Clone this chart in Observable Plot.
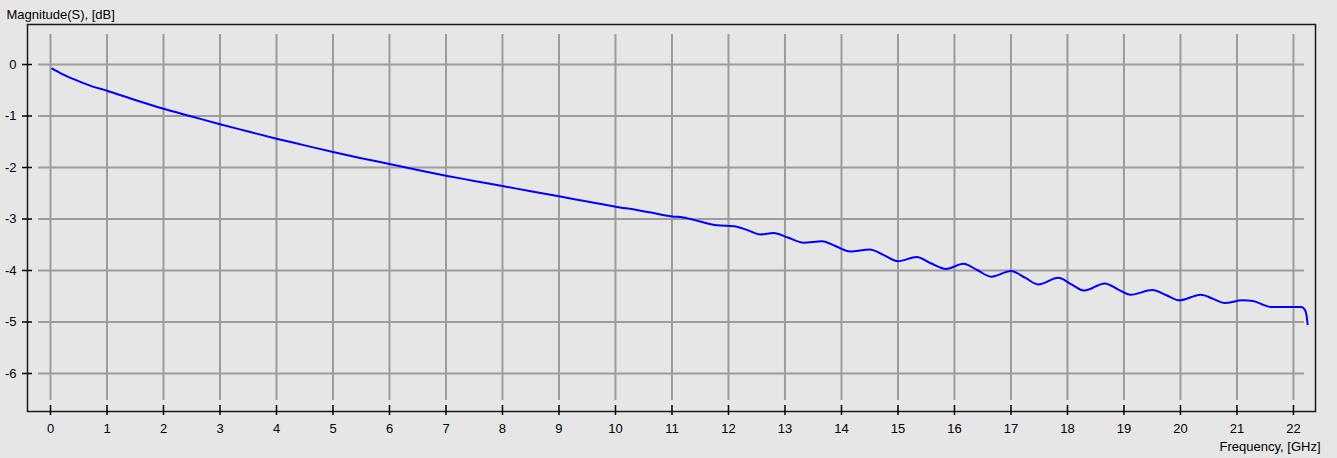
<!DOCTYPE html>
<html>
<head>
<meta charset="utf-8">
<script src="https://cdn.jsdelivr.net/npm/d3@7"></script>
<script src="https://cdn.jsdelivr.net/npm/@observablehq/plot@0.6"></script>
<style>
  html, body { margin: 0; padding: 0; background: #e6e6e6; }
  #chart svg { display: block; }
</style>
</head>
<body>
<div id="chart"></div>
<script>
// Frequency in GHz
const freq = [0.03, 0.2, 0.4, 0.7, 1.0, 1.5, 2.0, 2.5, 3.0, 3.5, 4.0, 4.5, 5.0, 5.5, 6.0, 6.5, 7.0, 7.5, 8.0, 8.5, 9.0, 9.5, 10.0,
  10.4, 10.6, 11.0, 11.2, 11.5, 11.8, 12.1, 12.35, 12.56, 12.8, 13.05, 13.33, 13.66, 13.9, 14.16, 14.5, 14.75, 15.0, 15.33,
  15.58, 15.85, 16.16, 16.4, 16.65, 17.0, 17.25, 17.48, 17.84, 18.07, 18.3, 18.66, 18.9, 19.12, 19.5, 19.75, 19.98, 20.36,
  20.58, 20.78, 21.1, 21.28, 21.45, 21.6, 22.0, 22.14, 22.2, 22.23, 22.25];
// Magnitude(S) in dB
const magnitude = [-0.08, -0.18, -0.28, -0.41, -0.51, -0.69, -0.86, -1.01, -1.16, -1.30, -1.44, -1.57, -1.70, -1.82, -1.93, -2.05, -2.16, -2.26, -2.36, -2.46, -2.56, -2.66, -2.76,
  -2.83, -2.87, -2.95, -2.97, -3.05, -3.12, -3.14, -3.22, -3.30, -3.27, -3.36, -3.46, -3.43, -3.53, -3.63, -3.59, -3.70, -3.82, -3.74,
  -3.86, -3.97, -3.87, -3.99, -4.12, -4.01, -4.14, -4.27, -4.14, -4.27, -4.39, -4.25, -4.37, -4.47, -4.38, -4.48, -4.58, -4.47,
  -4.55, -4.63, -4.58, -4.59, -4.66, -4.71, -4.71, -4.71, -4.76, -4.86, -5.04];

const xTicks = [0, 1, 2, 3, 4, 5, 6, 7, 8, 9, 10, 11, 12, 13, 14, 15, 16, 17, 18, 19, 20, 21, 22];
const yTicks = [0, -1, -2, -3, -4, -5, -6];
const xDomain = [-0.407, 22.39];
const yDomain = [-6.738, 0.777];
const yTitle = "Magnitude(S), [dB]";
const xTitle = "Frequency, [GHz]";

const data = freq.map((f, i) => ({f, m: magnitude[i]}));

const fmt = d => String(d);
const font = "'Liberation Sans', Arial, sans-serif";

const chart = Plot.plot({
  width: 1337,
  height: 458,
  marginLeft: 27,
  marginRight: 22,
  marginTop: 24,
  marginBottom: 47,
  style: {background: "#e6e6e6", fontFamily: font, fontSize: "13px", color: "#000"},
  x: {domain: xDomain, ticks: xTicks},
  y: {domain: yDomain, ticks: yTicks},
  marks: [
    Plot.gridX(xTicks, {stroke: "#9c9c9c", strokeOpacity: 1, strokeWidth: 2, insetTop: 10, insetBottom: 11}),
    Plot.gridY(yTicks, {stroke: "#9c9c9c", strokeOpacity: 1, strokeWidth: 2, insetLeft: 11, insetRight: 11}),
    Plot.frame({stroke: "#1a1a1a", strokeWidth: 1.5}),
    // tick marks crossing the axes
    Plot.axisX(xTicks, {tickSize: 10, dy: -6, text: null, stroke: "#000", strokeWidth: 1.5, label: null}),
    Plot.axisY(yTicks, {tickSize: 10, dx: 5, text: null, stroke: "#000", strokeWidth: 1.5, label: null}),
    // tick labels
    Plot.axisX(xTicks, {tickSize: 0, tickPadding: 12, tickFormat: fmt, label: null, fontSize: 13, fill: "#000"}),
    Plot.axisY(yTicks, {tickSize: 0, tickPadding: 11, tickFormat: fmt, label: null, fontSize: 13, fill: "#000"}),
    Plot.line(data, {x: "f", y: "m", stroke: "#0000ff", strokeWidth: 2, curve: "monotone-x"}),
    Plot.text([yTitle], {frameAnchor: "top-left", text: d => d, dx: -21, dy: -10, textAnchor: "start", lineAnchor: "middle", fontSize: 13, fill: "#000"}),
    Plot.text([xTitle], {frameAnchor: "bottom-right", text: d => d, dx: 5, dy: 35, textAnchor: "end", lineAnchor: "middle", fontSize: 13, fill: "#000"})
  ]
});
document.getElementById("chart").appendChild(chart);
</script>
</body>
</html>
